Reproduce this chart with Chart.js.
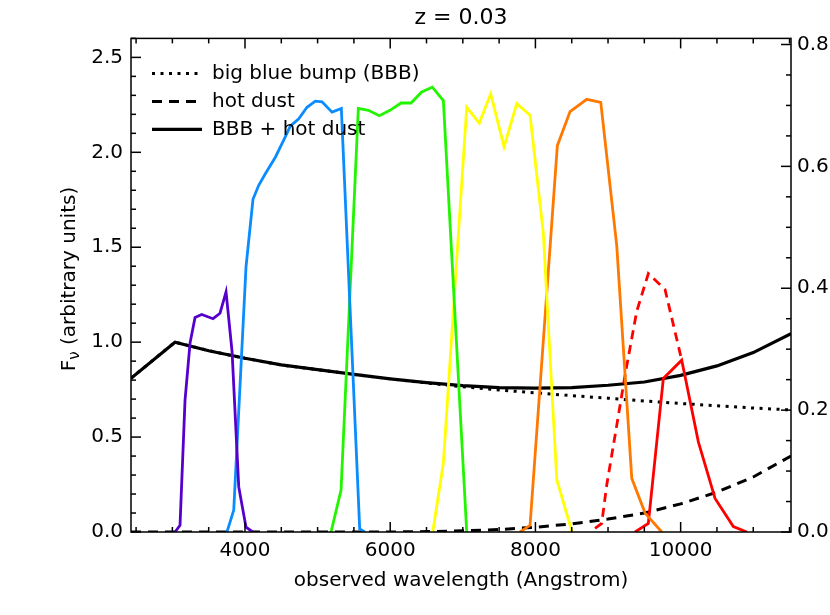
<!DOCTYPE html>
<html>
<head>
<meta charset="utf-8">
<script src="https://cdn.jsdelivr.net/npm/chart.js@4.4.1/dist/chart.umd.min.js"></script>
<style>
  html, body { margin: 0; padding: 0; background: #fff; }
</style>
</head>
<body>
<canvas id="sedChart" width="830" height="615"></canvas>
<script>
// wavelength grid (Angstrom) for the continuum curves
const contWave = [2430, 3036, 3500, 4000, 4500, 5000, 5500, 6000, 6500, 7000, 7500, 8000, 8500, 9000, 9500, 10000, 10500, 11000, 11520];
const bbbFlux   = [0.81, 1.0, 0.955, 0.915, 0.88, 0.855, 0.83, 0.807, 0.785, 0.765, 0.748, 0.733, 0.718, 0.705, 0.69, 0.677, 0.665, 0.653, 0.643];
const dustFlux  = [0, 0, 0, 0, 0, 0, 0, 0, 0.002, 0.006, 0.013, 0.025, 0.043, 0.068, 0.10, 0.148, 0.21, 0.29, 0.40];
const totalFlux = [0.81, 1.0, 0.955, 0.915, 0.88, 0.855, 0.83, 0.807, 0.787, 0.771, 0.761, 0.758, 0.761, 0.773, 0.79, 0.825, 0.875, 0.945, 1.045];

// filter transmission curves (right axis)
const uWave = [3036, 3105, 3174, 3243, 3312, 3404, 3560, 3656, 3739, 3822, 3914, 4014, 4106];
const uTrans = [0, 0.011, 0.216, 0.31, 0.352, 0.357, 0.35, 0.359, 0.394, 0.296, 0.074, 0.008, 0];
const gWave = [3752, 3845, 4014, 4110, 4189, 4280, 4418, 4533, 4624, 4740, 4854, 4969, 5061, 5199, 5327, 5580, 5650];
const gTrans = [0, 0.036, 0.435, 0.546, 0.569, 0.588, 0.615, 0.643, 0.666, 0.678, 0.697, 0.707, 0.706, 0.689, 0.695, 0.005, 0];
const rWave = [5185, 5323, 5561, 5699, 5850, 5997, 6149, 6287, 6434, 6580, 6732, 7054];
const rTrans = [0, 0.069, 0.695, 0.692, 0.683, 0.692, 0.704, 0.704, 0.722, 0.73, 0.708, 0];
const iWave = [6586, 6732, 7054, 7227, 7384, 7568, 7743, 7926, 8109, 8294, 8504];
const iTrans = [0, 0.113, 0.697, 0.671, 0.719, 0.632, 0.703, 0.684, 0.49, 0.086, 0];
const zWave = [7788, 7926, 8302, 8477, 8707, 8900, 9120, 9327, 9510, 9740];
const zTrans = [0, 0.011, 0.634, 0.69, 0.71, 0.705, 0.47, 0.088, 0.031, 0];
const yDashWave = [8821, 8913, 8982, 9120, 9234, 9395, 9555, 9785, 10015];
const yDashTrans = [0.006, 0.014, 0.077, 0.175, 0.257, 0.362, 0.424, 0.398, 0.282];
const ySolidWave = [9372, 9555, 9762, 10015, 10244, 10474, 10726, 10911];
const ySolidTrans = [0, 0.014, 0.252, 0.282, 0.148, 0.055, 0.009, 0];

// tick labels
const xTickLabels = [4000, 6000, 8000, 10000];
const yTickLabels = [0, 0.5, 1.0, 1.5, 2.0, 2.5];
const y2TickLabels = [0, 0.2, 0.4, 0.6, 0.8];

const legendLabels = ['big blue bump (BBB)', 'hot dust', 'BBB + hot dust'];

const FONT = 'DejaVu Sans';

function pts(xs, ys) {
    return xs.map((x, i) => ({x: x, y: ys[i]}));
}

function filterSet(xs, ys, color, dash) {
    return {
        data: pts(xs, ys),
        yAxisID: 'y2',
        borderColor: color,
        borderWidth: 2.8,
        borderDash: dash || [],
        pointRadius: 0,
        tension: 0,
        fill: false
    };
}

const bbbSet = {data: pts(contWave, bbbFlux), yAxisID: 'y', borderColor: '#000', borderWidth: 3, borderDash: [3, 5.5], pointRadius: 0, tension: 0};
const dustSet = {data: pts(contWave, dustFlux), yAxisID: 'y', borderColor: '#000', borderWidth: 3, borderDash: [10, 7], pointRadius: 0, tension: 0};
const totalSet = {data: pts(contWave, totalFlux), yAxisID: 'y', borderColor: '#000', borderWidth: 3.2, pointRadius: 0, tension: 0};

const datasets = [
    filterSet(uWave, uTrans, '#5500cc'),
    filterSet(gWave, gTrans, '#0a8cff'),
    filterSet(rWave, rTrans, '#22f500'),
    filterSet(iWave, iTrans, '#ffff00'),
    filterSet(zWave, zTrans, '#ff7800'),
    filterSet(yDashWave, yDashTrans, '#ff0000', [9, 6]),
    filterSet(ySolidWave, ySolidTrans, '#ff0000'),
    bbbSet,
    dustSet,
    totalSet
];

function line(ctx, x1, y1, x2, y2) {
    ctx.beginPath();
    ctx.moveTo(x1, y1);
    ctx.lineTo(x2, y2);
    ctx.stroke();
}

// IDL style frame: box, inward ticks, legend, y title with subscript
const idlFrame = {
    id: 'idlFrame',
    afterDraw(chart) {
        const ctx = chart.ctx;
        const a = chart.chartArea;
        const sx = chart.scales.x, sy = chart.scales.y, sy2 = chart.scales.y2;
        ctx.save();
        ctx.strokeStyle = '#000';
        ctx.lineWidth = 1.5;
        ctx.strokeRect(a.left, a.top, a.right - a.left, a.bottom - a.top);

        for (let v = 2500; v <= 11500; v += 500) {
            const px = sx.getPixelForValue(v);
            const len = v % 2000 === 0 ? 10 : 5;
            line(ctx, px, a.bottom, px, a.bottom - len);
            line(ctx, px, a.top, px, a.top + len);
        }
        for (let i = 0; i <= 26; i++) {
            const v = i / 10;
            const py = sy.getPixelForValue(v);
            line(ctx, a.left, py, a.left + (i % 5 === 0 ? 10 : 5), py);
        }
        for (let i = 0; i <= 16; i++) {
            const v = i * 0.05;
            const py = sy2.getPixelForValue(v);
            line(ctx, a.right, py, a.right - (i % 4 === 0 ? 10 : 5), py);
        }

        // legend
        const rows = [bbbSet, dustSet, totalSet];
        ctx.font = '20px ' + FONT;
        ctx.fillStyle = '#000';
        ctx.textBaseline = 'middle';
        ctx.textAlign = 'left';
        rows.forEach((ds, i) => {
            const y = a.top + 35 + i * 28;
            ctx.save();
            ctx.lineWidth = ds.borderWidth;
            ctx.setLineDash(ds.borderDash || []);
            line(ctx, a.left + 21, y, a.left + 71, y);
            ctx.restore();
            ctx.fillText(legendLabels[i], a.left + 81, y);
        });

        // y axis title: F_nu (arbitrary units)
        ctx.translate(68, 279);
        ctx.rotate(-Math.PI / 2);
        ctx.textBaseline = 'alphabetic';
        const big = '20px ' + FONT, small = '15px ' + FONT;
        ctx.font = big;
        const wF = ctx.measureText('F').width;
        const wRest = ctx.measureText(' (arbitrary units)').width;
        ctx.font = small;
        const wNu = ctx.measureText('\u03BD').width;
        let x0 = -(wF + wNu + wRest) / 2;
        ctx.font = big;
        ctx.fillText('F', x0, 7);
        ctx.font = small;
        ctx.fillText('\u03BD', x0 + wF, 11);
        ctx.font = big;
        ctx.fillText(' (arbitrary units)', x0 + wF + wNu, 7);
        ctx.restore();
    }
};

new Chart(document.getElementById('sedChart'), {
    type: 'line',
    data: {datasets: datasets},
    options: {
        responsive: false,
        animation: false,
        layout: {padding: 0},
        plugins: {
            legend: {display: false},
            tooltip: {enabled: false},
            title: {
                display: true,
                fullSize: false,
                text: 'z = 0.03',
                color: '#000',
                font: {family: FONT, size: 22, weight: 'normal'},
                padding: {top: 5, bottom: 7}
            }
        },
        scales: {
            x: {
                type: 'linear',
                min: 2430,
                max: 11520,
                afterBuildTicks: s => { s.ticks = xTickLabels.map(v => ({value: v})); },
                afterFit: s => { s.height = 83; },
                grid: {display: false, drawTicks: false},
                border: {display: false},
                ticks: {color: '#000', font: {family: FONT, size: 20}, padding: 7, maxRotation: 0, autoSkip: false,
                        callback: v => String(v)},
                title: {display: true, text: 'observed wavelength (Angstrom)', color: '#000',
                        font: {family: FONT, size: 20}, padding: {top: 0, bottom: 22}}
            },
            y: {
                type: 'linear',
                position: 'left',
                min: 0,
                max: 2.6,
                afterBuildTicks: s => { s.ticks = yTickLabels.map(v => ({value: v})); },
                afterFit: s => { s.width = 131; },
                grid: {display: false, drawTicks: false},
                border: {display: false},
                ticks: {color: '#000', font: {family: FONT, size: 20}, padding: 8, callback: v => v.toFixed(1)}
            },
            y2: {
                type: 'linear',
                position: 'right',
                min: 0,
                max: 0.81,
                afterBuildTicks: s => { s.ticks = y2TickLabels.map(v => ({value: v})); },
                afterFit: s => { s.width = 39; },
                grid: {display: false, drawTicks: false},
                border: {display: false},
                ticks: {color: '#000', font: {family: FONT, size: 20}, padding: 6, callback: v => v.toFixed(1)}
            }
        }
    },
    plugins: [idlFrame]
});
</script>
</body>
</html>
